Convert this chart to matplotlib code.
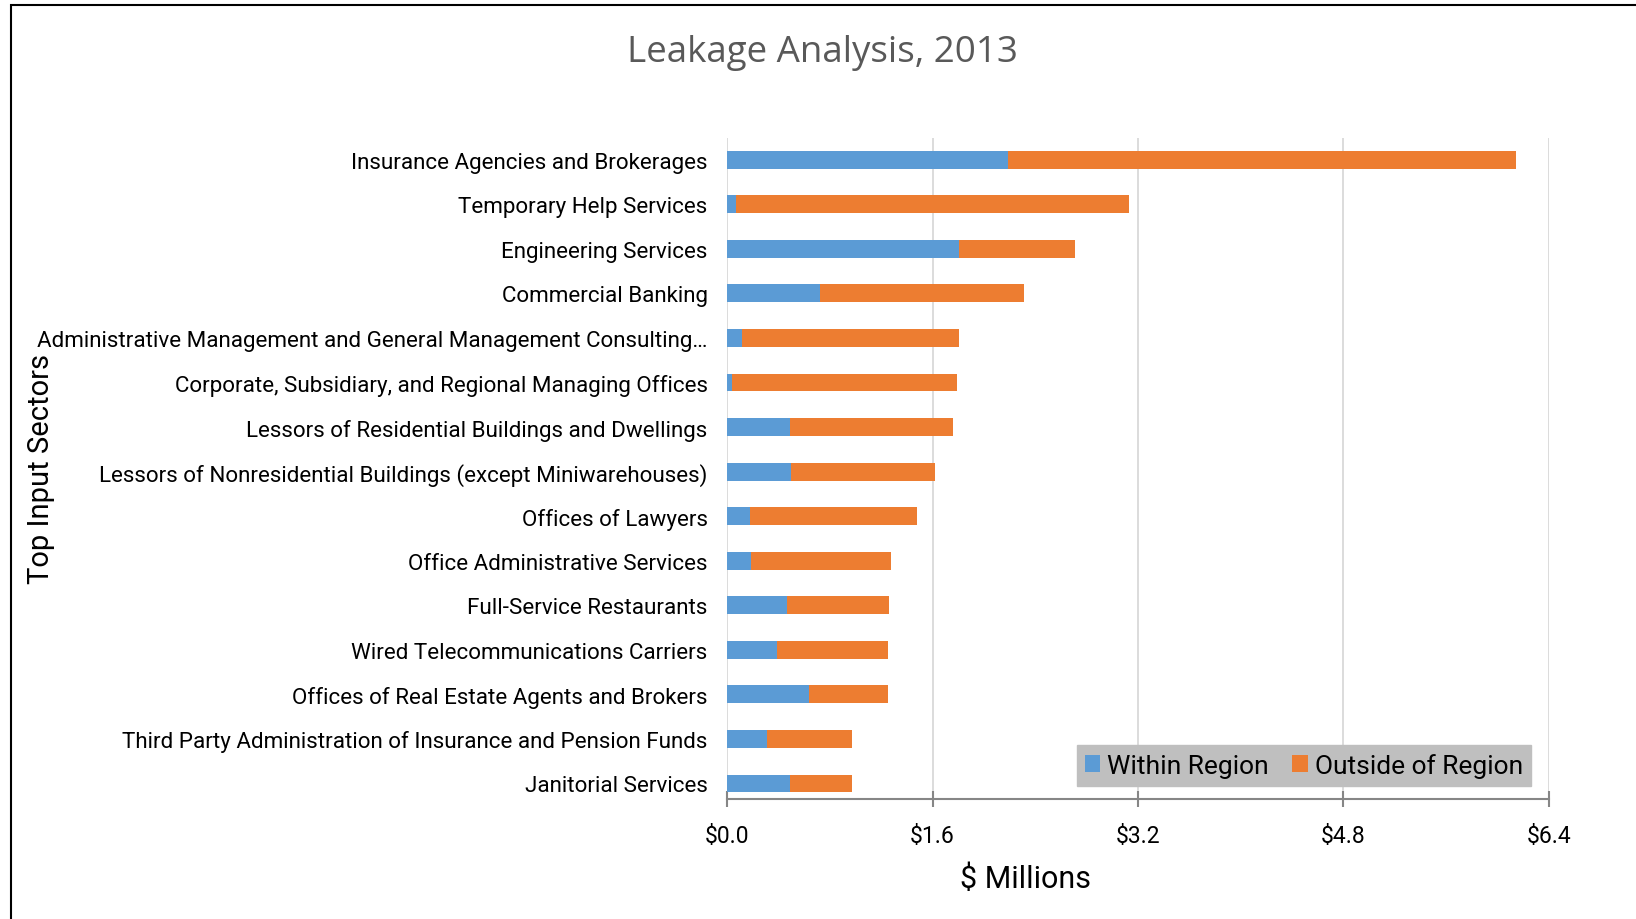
import matplotlib
matplotlib.use("Agg")
import matplotlib.pyplot as plt
from matplotlib.patches import Rectangle
from matplotlib.ticker import FuncFormatter

# Leakage data ($ millions)
sectors = [
    "Insurance Agencies and Brokerages",
    "Temporary Help Services",
    "Engineering Services",
    "Commercial Banking",
    "Administrative Management and General Management Consulting\u2026",
    "Corporate, Subsidiary, and Regional Managing Offices",
    "Lessors of Residential Buildings and Dwellings",
    "Lessors of Nonresidential Buildings (except Miniwarehouses)",
    "Offices of Lawyers",
    "Office Administrative Services",
    "Full-Service Restaurants",
    "Wired Telecommunications Carriers",
    "Offices of Real Estate Agents and Brokers",
    "Third Party Administration of Insurance and Pension Funds",
    "Janitorial Services",
]
within = [2.19, 0.07, 1.81, 0.72, 0.12, 0.04, 0.49, 0.50, 0.18, 0.19, 0.47, 0.39, 0.64, 0.31, 0.49]
totals = [6.14, 3.13, 2.71, 2.31, 1.81, 1.79, 1.76, 1.62, 1.48, 1.28, 1.26, 1.25, 1.25, 0.97, 0.97]
outside = [t - w for t, w in zip(totals, within)]

x_ticks = [0.0, 1.6, 3.2, 4.8, 6.4]

BLUE = "#5B9BD5"
ORANGE = "#ED7D31"

plt.rcParams["font.family"] = ["Roboto", "DejaVu Sans"]

fig = plt.figure(figsize=(16.36, 9.2), dpi=100)
ax = fig.add_axes([0.4444, 0.1304, 0.5024, 0.7186])

pos = list(range(len(sectors)))
ax.barh(pos, within, height=0.4, color=BLUE, label="Within Region", zorder=3)
ax.barh(pos, outside, left=within, height=0.4, color=ORANGE, label="Outside of Region", zorder=3)

ax.set_xlim(0, 6.4)
ax.set_ylim(14.35, -0.49)
ax.set_xticks(x_ticks)
ax.xaxis.set_major_formatter(FuncFormatter(lambda v, p: f"${v:.1f}"))
ax.set_yticks(pos)
ax.set_yticklabels(sectors)

ax.grid(axis="x", color="#d9d9d9", linewidth=1.3, zorder=0)
for side in ["top", "right", "left"]:
    ax.spines[side].set_visible(False)
ax.spines["bottom"].set_color("#868686")
ax.spines["bottom"].set_linewidth(1.5)

ax.tick_params(axis="y", length=0, pad=14, labelsize=16.1)
ax.tick_params(axis="x", direction="inout", length=12, width=1.5, color="#868686",
               labelsize=16.5, pad=12)

ax.set_xlabel("$ Millions", fontsize=22, labelpad=12)
ax.xaxis.set_label_coords(0.363, -0.098)
ax.set_ylabel("Top Input Sectors", fontsize=21)
ax.yaxis.set_label_coords(-0.818, 0.5)

fig.text(0.503, 0.942, "Leakage Analysis, 2013", ha="center", va="center",
         fontsize=26.5, color="#595959", family=["Open Sans", "DejaVu Sans"])

leg = ax.legend(loc="lower right", bbox_to_anchor=(0.994, 0.0), ncol=2, frameon=True,
                fontsize=19, handlelength=0.6, handleheight=0.6, handletextpad=0.25,
                columnspacing=0.9, borderpad=0.3, fancybox=False)
leg.get_frame().set_facecolor("#bfbfbf")
leg.get_frame().set_edgecolor("#bfbfbf")
leg.get_frame().set_alpha(1)

# outer border of the chart area (right/bottom run off the image)
fig.patches.append(Rectangle((0.0065, -0.1), 1.2, 1.094, transform=fig.transFigure,
                             fill=False, edgecolor="black", linewidth=1.5))

fig.savefig("out.png", dpi=100)
